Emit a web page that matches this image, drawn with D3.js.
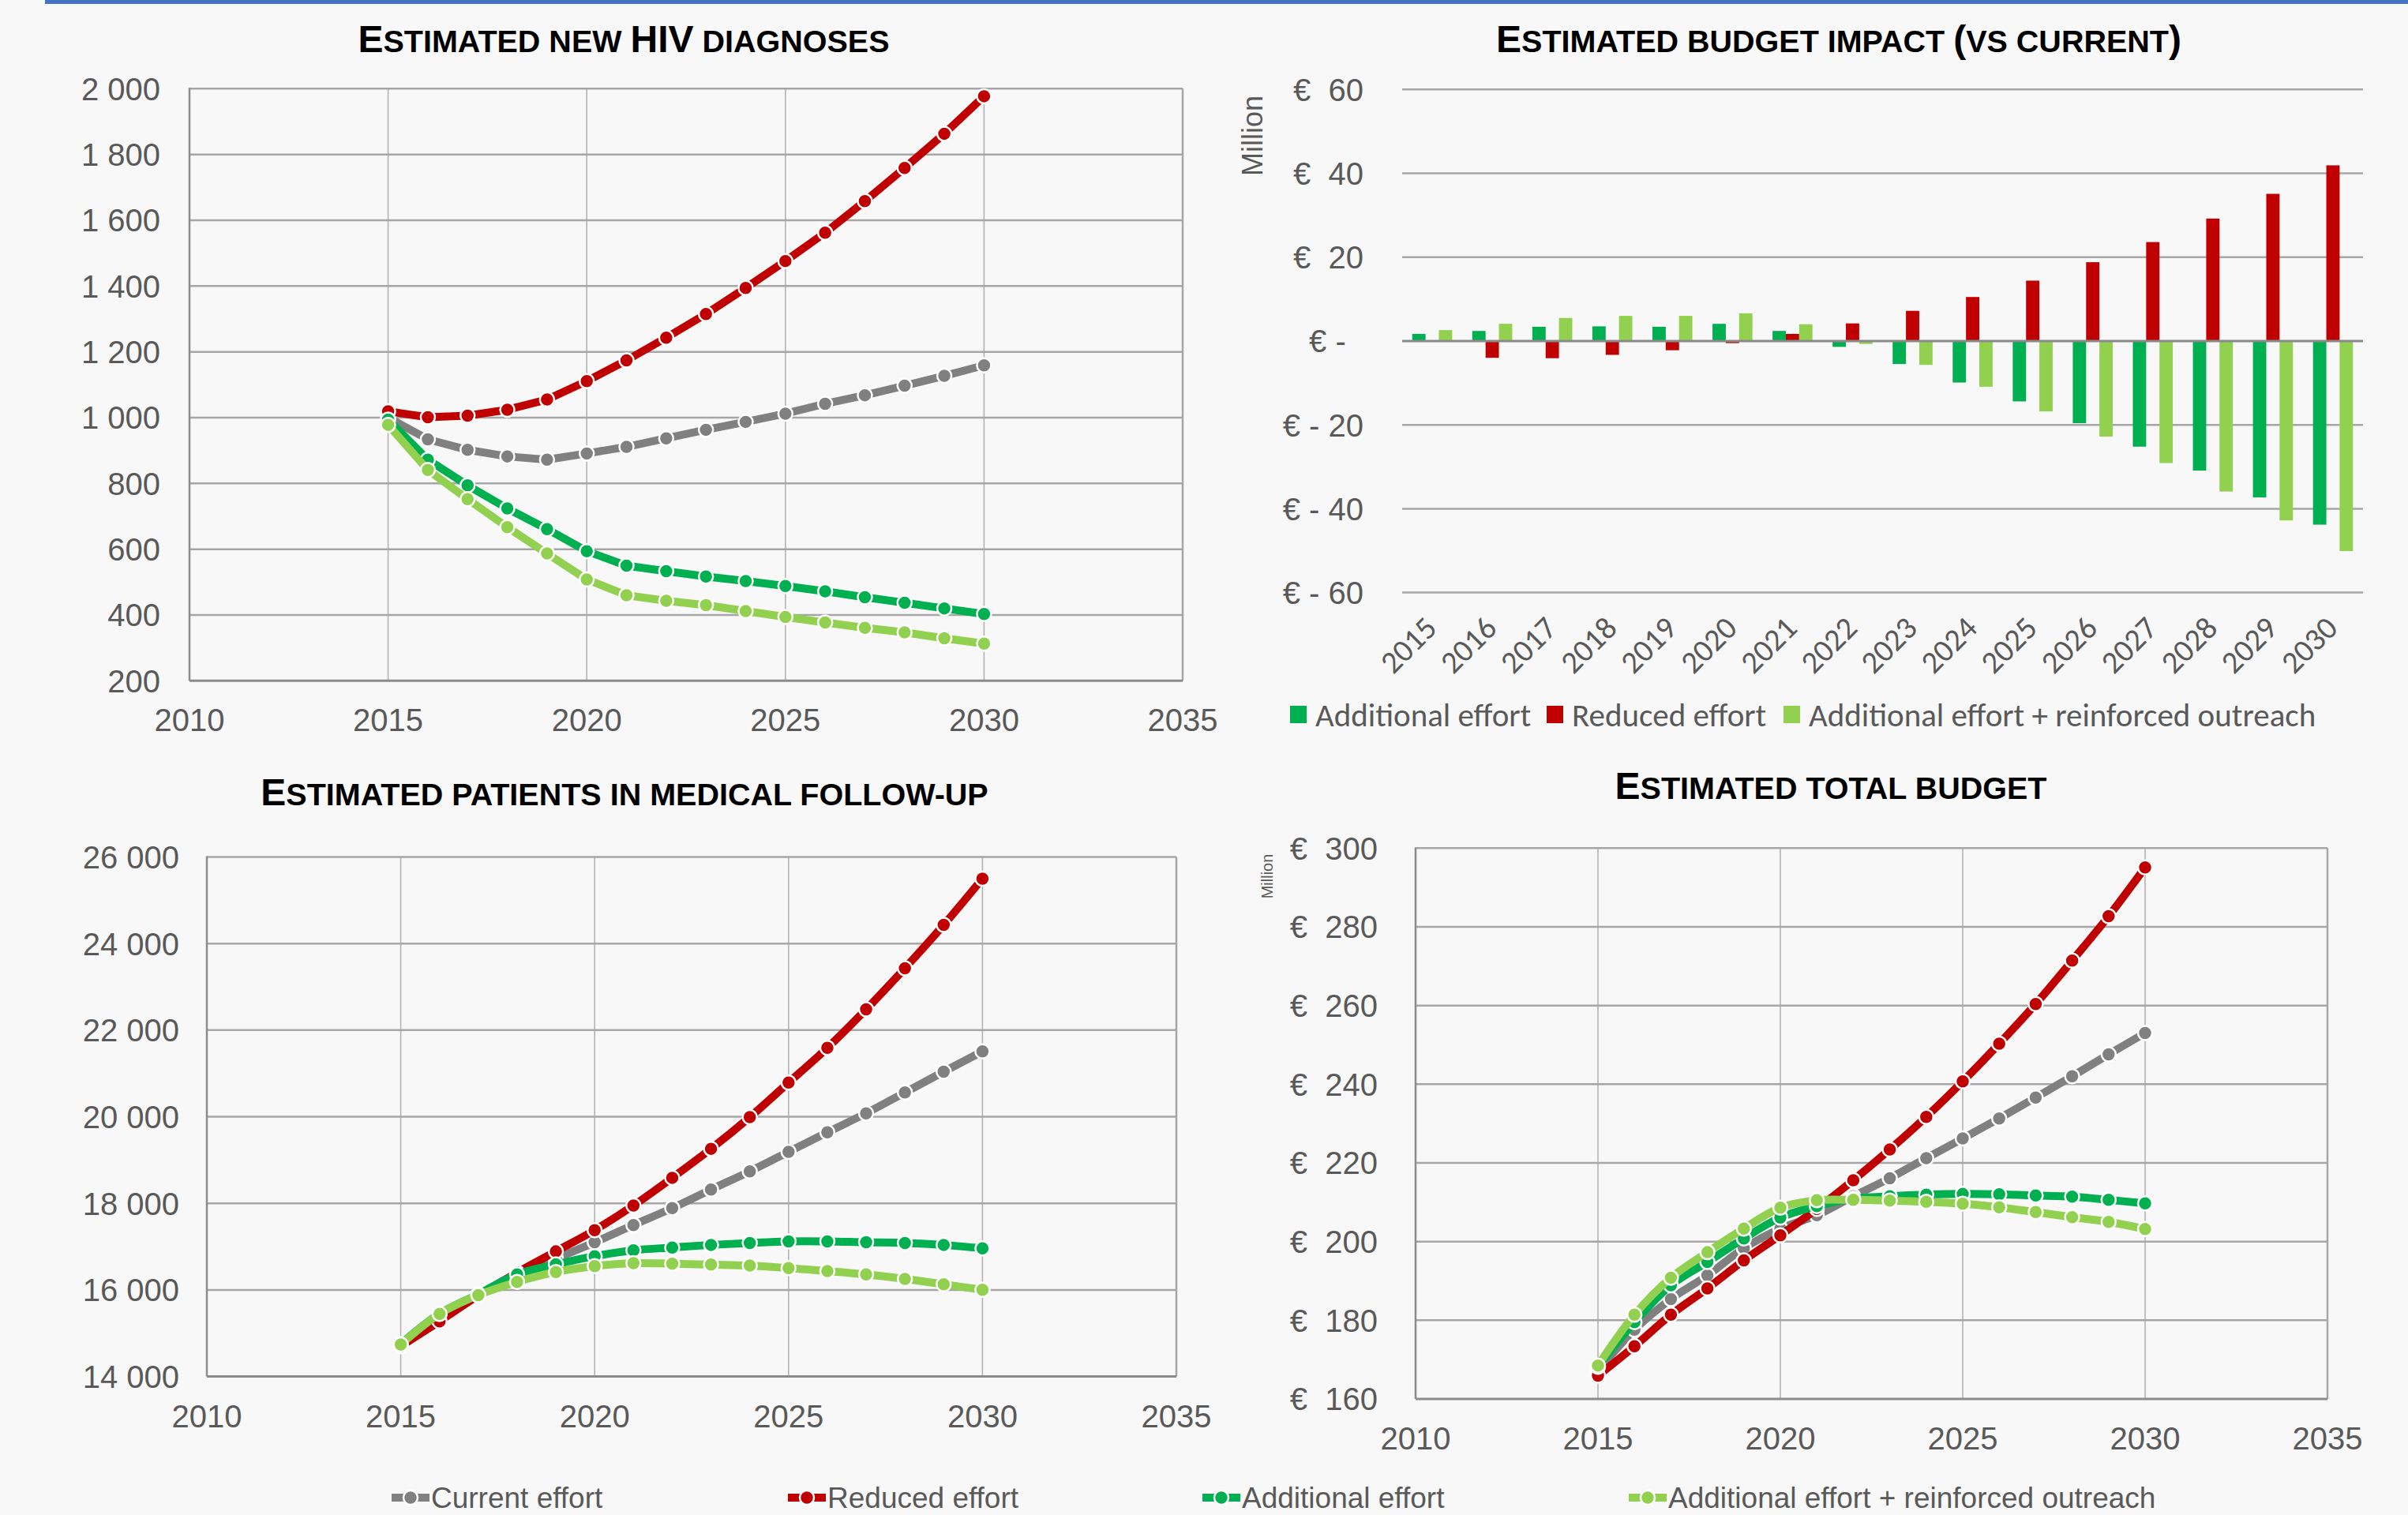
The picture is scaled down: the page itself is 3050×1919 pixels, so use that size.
<!DOCTYPE html>
<html><head><meta charset="utf-8">
<script src="https://cdn.jsdelivr.net/npm/d3@7/dist/d3.min.js"></script>
<style>
html,body{margin:0;padding:0;background:#f8f8f8;}
svg{display:block;}
text{font-family:"Liberation Sans",Arial,sans-serif;}
</style></head>
<body><svg id="c" width="3050" height="1919"></svg>
<script>
// ---------------- DATA ----------------
const years = [2015,2016,2017,2018,2019,2020,2021,2022,2023,2024,2025,2026,2027,2028,2029,2030];
const seriesNames = ["Current effort","Reduced effort","Additional effort","Additional effort + reinforced outreach"];
const seriesColors = ["#808080","#C00000","#00B050","#92D050"];

// Estimated new HIV diagnoses
const diagCurrent    = [1000, 934, 902, 882, 872, 891, 911, 937, 963, 987, 1012, 1042, 1068, 1097, 1127, 1159];
const diagReduced    = [1019, 1001, 1006, 1024, 1055, 1111, 1174, 1243, 1315, 1394, 1476, 1562, 1658, 1759, 1863, 1977];
const diagAdditional = [994, 872, 794, 724, 661, 594, 550, 533, 517, 503, 488, 472, 454, 437, 420, 403];
const diagOutreach   = [978, 841, 752, 667, 587, 508, 460, 443, 430, 412, 394, 377, 361, 347, 329, 313];

// Estimated patients in medical follow-up
const patCurrent    = [14750, 15420, 15880, 16330, 16720, 17100, 17500, 17890, 18320, 18740, 19190, 19640, 20080, 20560, 21040, 21510];
const patReduced    = [14700, 15275, 15870, 16400, 16890, 17380, 17950, 18590, 19260, 19990, 20790, 21590, 22480, 23430, 24430, 25500];
const patAdditional = [14750, 15450, 15900, 16360, 16590, 16780, 16915, 16980, 17040, 17085, 17120, 17120, 17100, 17085, 17040, 16960];
const patOutreach   = [14740, 15446, 15880, 16186, 16414, 16550, 16618, 16607, 16585, 16562, 16505, 16437, 16357, 16254, 16129, 16004];

// Estimated total budget (million €)
const budCurrent    = [167.0, 177.6, 185.4, 191.4, 198.3, 203.3, 206.7, 211.5, 216.1, 221.2, 226.2, 231.3, 236.6, 242.0, 247.6, 253.0];
const budReduced    = [165.9, 173.4, 181.4, 188.1, 195.2, 201.6, 208.3, 215.6, 223.4, 231.7, 240.7, 250.3, 260.4, 271.4, 282.7, 295.1];
const budAdditional = [168.2, 179.5, 188.9, 194.8, 200.8, 206.1, 209.0, 210.9, 211.5, 211.9, 212.1, 212.0, 211.7, 211.4, 210.6, 209.7];
const budOutreach   = [168.5, 181.4, 190.8, 197.3, 203.3, 208.6, 210.5, 210.6, 210.4, 210.1, 209.6, 208.7, 207.5, 206.2, 205.0, 203.2];

// Estimated budget impact vs current (million €)
const impactNames  = ["Additional effort","Reduced effort","Additional effort + reinforced outreach"];
const impactColors = ["#00B050","#C00000","#92D050"];
const impactAdditional = [1.7, 2.4, 3.4, 3.5, 3.4, 4.1, 2.4, -1.4, -5.5, -9.9, -14.4, -19.6, -25.2, -30.9, -37.3, -43.8];
const impactReduced    = [0.0, -4.0, -4.1, -3.3, -2.2, -0.5, 1.7, 4.2, 7.2, 10.5, 14.4, 18.8, 23.6, 29.2, 35.1, 41.9];
const impactOutreach   = [2.6, 4.1, 5.5, 6.0, 6.0, 6.6, 4.0, -0.7, -5.7, -10.9, -16.8, -22.8, -29.1, -35.9, -42.8, -50.1];

const xTicks = [2010,2015,2020,2025,2030,2035];
const diagTicks = [200,400,600,800,1000,1200,1400,1600,1800,2000];
const patTicks = [14000,16000,18000,20000,22000,24000,26000];
const budTicks = [160,180,200,220,240,260,280,300];
const impactTicks = [-60,-40,-20,0,20,40,60];

// ---------------- DRAWING ----------------
const svg = d3.select("#c");
const LABEL = "#595959";
const LW = 10, MR = 9;
const fmt = d3.formatLocale({decimal:",", thousands:" ", grouping:[3], currency:["",""]}).format(",");

svg.append("rect").attr("x",0).attr("y",0).attr("width",3050).attr("height",1919).attr("fill","#f8f8f8");
svg.append("rect").attr("x",57).attr("y",0).attr("width",2993).attr("height",5).attr("fill","#4472C4");

function title(x, y, str, big, small){
  const t = svg.append("text").attr("x",x).attr("y",y).attr("text-anchor","middle")
    .attr("font-weight","bold").attr("fill","#000").style("white-space","pre");
  const runs = [];
  for (const ch of str){
    const isBig = (ch !== ch.toLowerCase()) || ch === "(" || ch === ")";
    const last = runs[runs.length-1];
    if (last && last.big === isBig) last.s += ch; else runs.push({big:isBig, s:ch});
  }
  runs.forEach(r => t.append("tspan").attr("font-size", r.big ? big : small).text(r.s.toUpperCase()));
}

function lineChart(cfg){
  const x = d3.scaleLinear().domain([2010,2035]).range([cfg.left,cfg.right]);
  const y = d3.scaleLinear().domain(cfg.yDomain).range([cfg.bottom,cfg.top]);
  const g = svg.append("g");
  g.selectAll(".vg").data(xTicks.slice(1)).join("line")
    .attr("x1",d=>x(d)).attr("x2",d=>x(d)).attr("y1",cfg.top).attr("y2",cfg.bottom)
    .attr("stroke", d=> d===2035 ? "#a6a6a6" : "#b3b3b3").attr("stroke-width", d=> d===2035 ? 2.5 : 1.6);
  g.selectAll(".hg").data(cfg.yTicks.slice(1)).join("line")
    .attr("x1",cfg.left).attr("x2",cfg.right).attr("y1",d=>y(d)).attr("y2",d=>y(d))
    .attr("stroke","#a6a6a6").attr("stroke-width",2.5);
  g.append("line").attr("x1",cfg.left).attr("x2",cfg.left).attr("y1",cfg.top-1).attr("y2",cfg.bottom)
    .attr("stroke","#8c8c8c").attr("stroke-width",2.5);
  g.append("line").attr("x1",cfg.left).attr("x2",cfg.right).attr("y1",cfg.bottom).attr("y2",cfg.bottom)
    .attr("stroke","#8c8c8c").attr("stroke-width",3);
  g.selectAll(".yl").data(cfg.yTicks).join("text")
    .attr("x",cfg.labelX).attr("y",d=>y(d)).attr("dy","0.36em").attr("text-anchor","end")
    .attr("font-size",40).attr("fill",LABEL).style("white-space","pre").text(cfg.yFmt);
  g.selectAll(".xl").data(xTicks).join("text")
    .attr("x",d=>x(d)).attr("y",cfg.bottom+64).attr("text-anchor","middle")
    .attr("font-size",40).attr("fill",LABEL).text(d=>d);
  const line = d3.line().x((d,i)=>x(years[i])).y(d=>y(d)).curve(cfg.curve);
  cfg.series.forEach((s,k)=>{
    const sg = g.append("g");
    sg.append("path").attr("d",line(s)).attr("fill","none").attr("stroke",seriesColors[k])
      .attr("stroke-width",LW).attr("stroke-linejoin","round");
    sg.selectAll("circle").data(s).join("circle")
      .attr("cx",(d,i)=>x(years[i])).attr("cy",d=>y(d)).attr("r",MR)
      .attr("fill",seriesColors[k]).attr("stroke","#ffffff").attr("stroke-width",2.5);
  });
  if (cfg.million){
    svg.append("text").attr("transform",`translate(${cfg.million.x},${cfg.million.y}) rotate(-90)`)
      .attr("text-anchor","middle").attr("dy","0.36em").attr("font-size",cfg.million.size)
      .attr("fill",LABEL).text("Million");
  }
}

// Chart 1: new HIV diagnoses
title(790, 66, "Estimated new HIV diagnoses", 48, 39.5);
lineChart({left:240,right:1498,top:112.3,bottom:862.3,yDomain:[200,2000],yTicks:diagTicks,
  labelX:203, yFmt:d=>fmt(d), curve:d3.curveLinear,
  series:[diagCurrent,diagReduced,diagAdditional,diagOutreach]});

// Chart 3: patients
title(791, 1020, "Estimated patients in medical follow-up", 48, 39.5);
lineChart({left:262,right:1490,top:1085.5,bottom:1743.6,yDomain:[14000,26000],yTicks:patTicks,
  labelX:227, yFmt:d=>fmt(d), curve:d3.curveCatmullRom.alpha(0.5),
  series:[patCurrent,patReduced,patAdditional,patOutreach]});

// Chart 4: total budget
title(2319, 1012, "Estimated total budget", 48, 39.5);
lineChart({left:1793,right:2948,top:1074.3,bottom:1772,yDomain:[160,300],yTicks:budTicks,
  labelX:1745, yFmt:d=>"€  "+d, curve:d3.curveCatmullRom.alpha(0.5),
  million:{x:1605,y:1110,size:20},
  series:[budCurrent,budReduced,budAdditional,budOutreach]});

// Chart 2: budget impact bars
title(2329, 66, "Estimated budget impact (vs current)", 48, 39.5);
(function(){
  const left=1776, right=2993;
  const y = d3.scaleLinear().domain([-60,60]).range([750.6,113.3]);
  const xb = d3.scaleBand().domain(years).range([left,right]).paddingInner(0.335).paddingOuter(0.1675);
  const xs = d3.scaleBand().domain([0,1,2]).range([0,xb.bandwidth()]);
  const g = svg.append("g");
  g.selectAll(".hg").data(impactTicks.filter(d=>d!==0)).join("line")
    .attr("x1",left).attr("x2",right).attr("y1",d=>y(d)).attr("y2",d=>y(d))
    .attr("stroke","#a6a6a6").attr("stroke-width",2.5);
  g.selectAll(".yl").data(impactTicks).join("text")
    .attr("x",1727).attr("y",d=>y(d)).attr("dy","0.36em").attr("text-anchor","end")
    .attr("font-size",40).attr("fill",LABEL).style("white-space","pre")
    .text(d=> d>0 ? "€  "+d : d<0 ? "€ - "+(-d) : "€ -  ");
  const sets = [impactAdditional, impactReduced, impactOutreach];
  sets.forEach((vals,k)=>{
    g.selectAll(".b"+k).data(vals).join("rect")
      .attr("x",(d,i)=>xb(years[i])+xs(k)).attr("width",xs.bandwidth())
      .attr("y",d=>y(Math.max(0,d))).attr("height",d=>Math.abs(y(d)-y(0)))
      .attr("fill",impactColors[k]);
  });
  g.append("line").attr("x1",left).attr("x2",right).attr("y1",y(0)).attr("y2",y(0))
    .attr("stroke","#898989").attr("stroke-width",3);
  g.selectAll(".xl").data(years).join("text")
    .attr("transform",d=>`translate(${xb(d)+xb.bandwidth()/2+8},798) rotate(-45)`)
    .attr("text-anchor","end").attr("font-size",40).attr("fill",LABEL)
    .style("font-family","Carlito, Lato, sans-serif").text(d=>d);
  svg.append("text").attr("transform","translate(1586,172) rotate(-90)")
    .attr("text-anchor","middle").attr("dy","0.36em").attr("font-size",36).attr("fill",LABEL).text("Million");
  const lx = [1634,1959,2259];
  impactNames.forEach((n,k)=>{
    g.append("rect").attr("x",lx[k]).attr("y",894).attr("width",21).attr("height",22).attr("fill",impactColors[k]);
    g.append("text").attr("x",lx[k]+32).attr("y",905).attr("dy","0.36em").attr("font-size",41)
      .attr("fill",LABEL).style("font-family","Carlito, Lato, sans-serif").text(n);
  });
})();

// Bottom legend for line charts
const legX = [496, 998, 1523, 2063];
seriesNames.forEach((n,k)=>{
  const g = svg.append("g");
  const cy = 1897;
  g.append("line").attr("x1",legX[k]).attr("x2",legX[k]+48).attr("y1",cy).attr("y2",cy)
    .attr("stroke",seriesColors[k]).attr("stroke-width",LW);
  g.append("circle").attr("cx",legX[k]+24).attr("cy",cy).attr("r",MR)
    .attr("fill",seriesColors[k]).attr("stroke","#fff").attr("stroke-width",2.5);
  g.append("text").attr("x",legX[k]+50).attr("y",cy).attr("dy","0.36em").attr("font-size",37)
    .attr("fill",LABEL).text(n);
});
</script>
</body></html>
